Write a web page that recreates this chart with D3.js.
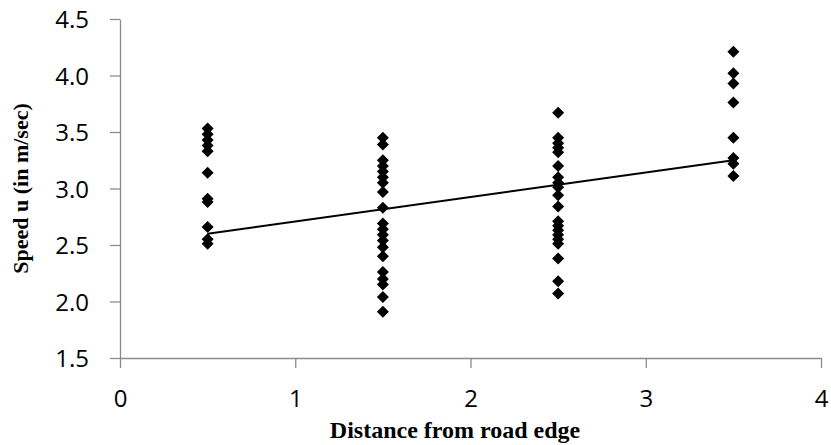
<!DOCTYPE html>
<html>
<head>
<meta charset="utf-8">
<script src="https://cdn.jsdelivr.net/npm/d3@7"></script>
<style>
  html, body { margin: 0; padding: 0; background: #fff; }
  svg { display: block; }
</style>
</head>
<body>
<svg id="chart" width="831" height="445"></svg>
<script>
// Measured walking speed at four distances from the road edge
const distances = [0.5, 1.5, 2.5, 3.5];
const speedsAt05 = [3.53, 3.48, 3.43, 3.38, 3.33, 3.14, 2.91, 2.88, 2.66, 2.55, 2.51];
const speedsAt15 = [3.45, 3.39, 3.25, 3.20, 3.15, 3.10, 3.05, 2.97, 2.83, 2.69, 2.64, 2.59, 2.54, 2.48, 2.40, 2.26, 2.20, 2.15, 2.04, 1.91];
const speedsAt25 = [3.67, 3.45, 3.40, 3.36, 3.32, 3.20, 3.10, 3.05, 3.01, 2.94, 2.84, 2.71, 2.67, 2.63, 2.59, 2.55, 2.51, 2.38, 2.18, 2.07];
const speedsAt35 = [4.21, 4.02, 3.93, 3.76, 3.45, 3.27, 3.22, 3.11];
// Linear trend drawn across the measured range
const trendX = [0.5, 3.5];
const trendY = [2.60, 3.25];
// Axis ticks
const xTicks = [0, 1, 2, 3, 4];
const yTicks = [1.5, 2.0, 2.5, 3.0, 3.5, 4.0, 4.5];

(function draw() {
  const groups = [speedsAt05, speedsAt15, speedsAt25, speedsAt35];
  const points = groups.flatMap((vals, i) => vals.map(v => ({ x: distances[i], y: v })));

  const svg = d3.select("#chart");
  const plotLeft = 120, plotRight = 821, plotTop = 19, plotBottom = 358;

  const x = d3.scaleLinear().domain([0, 4]).range([plotLeft, plotRight]);
  const y = d3.scaleLinear().domain([1.5, 4.5]).range([plotBottom, plotTop]);

  const axisColor = "#8c8c8c";
  const tickFont = "'Open Sans', 'Noto Sans', sans-serif";

  // X axis
  const gx = svg.append("g")
    .attr("transform", `translate(0,${plotBottom})`)
    .call(d3.axisBottom(x).tickValues(xTicks).tickFormat(d3.format("d")).tickSize(10).tickSizeOuter(0));
  // Y axis
  const gy = svg.append("g")
    .attr("transform", `translate(${plotLeft},0)`)
    .call(d3.axisLeft(y).tickValues(yTicks).tickFormat(d3.format(".1f")).tickSize(10).tickSizeOuter(0));

  [gx, gy].forEach(g => {
    g.select(".domain").attr("stroke", axisColor).attr("stroke-width", 1.3);
    g.selectAll(".tick line").attr("stroke", axisColor).attr("stroke-width", 1.3);
    g.selectAll(".tick text")
      .attr("fill", "#000")
      .style("font-family", tickFont)
      .style("font-size", "24px");
  });
  gx.selectAll(".tick text").attr("y", 49).attr("dy", null);
  gy.selectAll(".tick text").attr("x", -31).attr("dy", "0.36em");

  // Trend line
  svg.append("line")
    .attr("x1", x(trendX[0])).attr("y1", y(trendY[0]))
    .attr("x2", x(trendX[1])).attr("y2", y(trendY[1]))
    .attr("stroke", "#000")
    .attr("stroke-width", 2);

  // Diamond markers
  const r = 6;
  const diamond = `M0,${-r}L${r},0L0,${r}L${-r},0Z`;
  svg.append("g").selectAll("path")
    .data(points)
    .join("path")
    .attr("d", diamond)
    .attr("transform", d => `translate(${x(d.x)},${y(d.y)})`)
    .attr("fill", "#000");

  // Axis titles
  svg.append("text")
    .attr("x", 455)
    .attr("y", 438)
    .attr("text-anchor", "middle")
    .style("font-family", "'Liberation Serif', 'Times New Roman', serif")
    .style("font-weight", "bold")
    .style("font-size", "24px")
    .text("Distance from road edge");

  svg.append("text")
    .attr("transform", `translate(28,${(plotTop + plotBottom) / 2}) rotate(-90)`)
    .attr("text-anchor", "middle")
    .style("font-family", "'Liberation Serif', 'Times New Roman', serif")
    .style("font-weight", "bold")
    .style("font-size", "22px")
    .text("Speed u (in m/sec)");
})();
</script>
</body>
</html>
